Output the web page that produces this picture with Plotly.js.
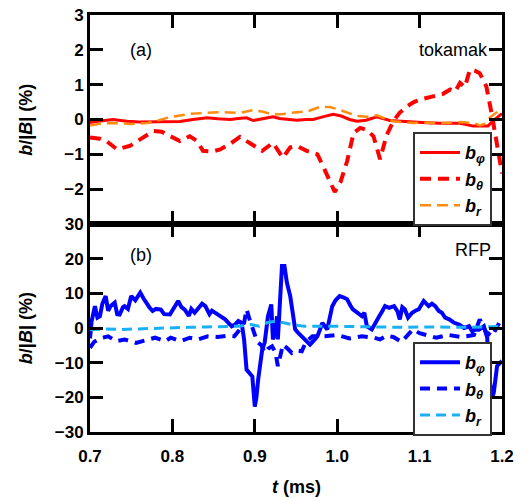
<!DOCTYPE html>
<html>
<head>
<meta charset="utf-8">
<script src="https://cdn.plot.ly/plotly-3.0.1.min.js"></script>
<style>html,body{margin:0;padding:0;background:#fff}#chart{width:529px;height:498px}</style>
</head>
<body>
<div id="chart"></div>
<script>
// ---- Data (t in ms, values in %) ----
// Panel (a): tokamak
var tokPhiT = [0.700,0.710,0.728,0.745,0.760,0.773,0.793,0.809,0.825,0.842,0.855,0.870,0.880,0.890,0.898,0.910,0.922,0.930,0.940,0.951,0.962,0.971,0.980,0.989,0.995,1.005,1.015,1.024,1.035,1.048,1.056,1.064,1.078,1.092,1.108,1.125,1.140,1.149,1.158,1.165,1.175,1.183,1.189,1.195,1.200];
var tokPhiV = [-0.09,-0.05,0.0,-0.05,-0.07,-0.07,-0.08,-0.06,0.0,0.05,0.02,0.0,0.03,0.05,-0.03,0.03,0.08,0.03,0.0,-0.02,0.0,0.0,0.06,0.12,0.15,0.10,0.0,-0.05,-0.02,0.08,0.02,-0.03,-0.05,-0.06,-0.09,-0.11,-0.10,-0.11,-0.15,-0.19,-0.19,-0.19,-0.04,0.07,0.17];

var tokThT = [0.700,0.712,0.720,0.733,0.749,0.763,0.777,0.787,0.797,0.809,0.821,0.830,0.837,0.848,0.858,0.870,0.882,0.894,0.909,0.922,0.934,0.943,0.951,0.963,0.976,0.984,0.991,0.997,1.004,1.012,1.020,1.028,1.036,1.044,1.052,1.060,1.068,1.076,1.085,1.093,1.100,1.116,1.128,1.137,1.143,1.149,1.155,1.161,1.167,1.173,1.181,1.188,1.194,1.200];
var tokThV = [-0.52,-0.55,-0.62,-0.86,-0.75,-0.55,-0.33,-0.35,-0.48,-0.62,-0.48,-0.62,-0.90,-0.92,-0.86,-0.70,-0.50,-0.67,-0.90,-0.67,-1.10,-0.80,-0.76,-0.90,-1.00,-1.40,-1.80,-2.08,-1.80,-1.20,-0.38,-0.24,-0.30,-0.48,-1.14,-0.45,-0.05,0.20,0.38,0.50,0.57,0.67,0.73,0.86,0.80,1.05,0.93,1.43,1.40,1.33,0.95,0.10,-0.80,-1.55];

var tokRT = [0.700,0.712,0.730,0.750,0.770,0.781,0.797,0.810,0.821,0.840,0.858,0.870,0.882,0.898,0.910,0.922,0.935,0.951,0.965,0.979,0.991,1.000,1.012,1.024,1.036,1.048,1.058,1.068,1.080,1.092,1.110,1.133,1.150,1.165,1.173,1.180,1.185,1.192,1.200];
var tokRV = [-0.17,-0.12,-0.10,-0.13,-0.10,-0.04,0.07,0.12,0.16,0.19,0.21,0.20,0.19,0.27,0.22,0.14,0.16,0.21,0.24,0.36,0.36,0.30,0.19,0.10,0.08,0.12,0.03,-0.05,-0.08,-0.10,-0.09,-0.10,-0.07,-0.10,-0.17,-0.12,0.05,0.18,0.29];

// Panel (b): RFP
var rfpPhiT = [0.700,0.702,0.706,0.709,0.712,0.715,0.719,0.722,0.725,0.730,0.733,0.736,0.740,0.742,0.746,0.750,0.755,0.761,0.765,0.768,0.772,0.776,0.780,0.786,0.790,0.797,0.800,0.804,0.807,0.811,0.815,0.820,0.823,0.827,0.832,0.836,0.840,0.845,0.848,0.852,0.858,0.864,0.868,0.872,0.876,0.880,0.884,0.887,0.890,0.894,0.897,0.900,0.902,0.904,0.909,0.912,0.916,0.920,0.922,0.925,0.927,0.928,0.931,0.933,0.936,0.939,0.943,0.946,0.949,0.953,0.957,0.962,0.967,0.972,0.976,0.979,0.982,0.985,0.988,0.991,0.994,0.998,1.003,1.008,1.012,1.016,1.019,1.024,1.030,1.033,1.036,1.042,1.046,1.051,1.055,1.058,1.063,1.069,1.073,1.076,1.079,1.082,1.086,1.091,1.095,1.099,1.105,1.111,1.115,1.119,1.123,1.127,1.131,1.136,1.142,1.148,1.154,1.160,1.164,1.167,1.172,1.178,1.182,1.185,1.188,1.190,1.194,1.200];
var rfpPhiV = [-3,2,6.3,3,3.4,7,9.2,5,6.3,7.3,4,3.9,6,6.3,5.5,9.2,8,10.2,8.5,7.3,6,4.9,5.5,5.3,4,3.9,5,6.5,7.8,6,5.3,3.5,5.5,4.4,6,7,6.3,4,5,4.4,3.5,2.5,1.5,0.5,1,2,1.5,-3.3,-12,-13,-14,-22.7,-20,-15,-6.2,-4.2,3.4,6.8,-3.3,-1,3.4,-3.3,8,17.9,17.9,13,9.2,4,-0.4,-1.5,-2.4,-3.5,-4.8,-3.5,-2.4,-0.5,1.5,0.5,-0.4,3,6.3,8,9.2,8.8,8.3,6.5,5.4,4.5,3.4,4.4,0.5,-0.4,1.5,3.4,5,6.3,5.8,6.3,4.9,2.5,6,5.4,3,4.4,5,5.4,7.8,6.3,7,6.3,5,4.4,3,2.5,1.5,1,0,0.5,-1,-0.4,-0.5,0.5,-2.8,-15,-20,-18.7,-11,-9.5];

var rfpThT = [0.700,0.705,0.712,0.722,0.732,0.742,0.756,0.765,0.779,0.791,0.798,0.810,0.821,0.831,0.843,0.855,0.867,0.875,0.882,0.887,0.890,0.893,0.898,0.903,0.908,0.912,0.916,0.921,0.925,0.928,0.931,0.934,0.940,0.945,0.951,0.957,0.962,0.970,0.985,1.000,1.015,1.030,1.045,1.052,1.060,1.068,1.078,1.092,1.100,1.110,1.120,1.135,1.150,1.157,1.166,1.173,1.180,1.188,1.195,1.200];
var rfpThV = [-5.7,-4,-3,-2.4,-3.8,-3.3,-4.3,-3.8,-2.8,-3.8,-2.8,-3.8,-2.8,-3.3,-2.4,-2.6,-2.2,-2.4,-0.4,1.5,5.4,3,-1,-4,-5,-7.2,-6,-5.3,-7,-11,-8,-4.8,-6,-7.2,-6.5,-6.7,-4,-2.4,-2.4,-2,-3,-2.4,-2.8,-3.3,-2.2,-2.6,-4,-0.4,-1.5,-2.2,-2.8,-2,-2.6,-2.4,-2,2.5,-1,-2.4,1,3];

var rfpRT = [0.700,0.720,0.740,0.760,0.780,0.800,0.820,0.840,0.860,0.880,0.895,0.905,0.915,0.925,0.935,0.945,0.960,0.980,1.000,1.020,1.040,1.060,1.080,1.100,1.120,1.140,1.160,1.180,1.200];
var rfpRV = [-0.5,-0.3,-0.4,-0.2,0,0,0.2,0.3,0.5,0.5,1,0.5,1.5,2,1.5,1,0.5,0.6,0.5,0.4,0.3,0.4,0.2,0.3,0.2,0.3,0.2,0.3,0.5];

var xTicks = [0.7,0.8,0.9,1.0,1.1,1.2];
var xTickText = ['0.7','0.8','0.9','1.0','1.1','1.2'];
var yTicksTop = [-2,-1,0,1,2,3];
var yTicksBot = [-30,-20,-10,0,10,20,30];

var nPhi = '<b><i>b</i><sub><i>φ</i></sub></b>';
var nTh  = '<b><i>b</i><sub><i>θ</i></sub></b>';
var nR   = '<b><i>b</i><sub><i>r</i></sub></b>';
var yTitle = '<b><i>b</i>/|<i>B</i>| (%)</b>';
var xTitle = '<b><i>t</i> (ms)</b>';

var traces = [
  {x: tokPhiT, y: tokPhiV, xaxis:'x', yaxis:'y', name:nPhi, legend:'legend', mode:'lines', line:{color:'#ff0000', width:3}},
  {x: tokThT,  y: tokThV,  xaxis:'x', yaxis:'y', name:nTh, legend:'legend', mode:'lines', line:{color:'#ff0000', width:4, dash:'11px,7px'}},
  {x: tokRT,   y: tokRV,   xaxis:'x', yaxis:'y', name:nR, legend:'legend', mode:'lines', line:{color:'#ff8c10', width:2.5, dash:'11px,6px'}},
  {x: rfpPhiT, y: rfpPhiV, xaxis:'x2', yaxis:'y2', name:nPhi, legend:'legend2', mode:'lines', line:{color:'#0000ff', width:4}},
  {x: rfpThT,  y: rfpThV,  xaxis:'x2', yaxis:'y2', name:nTh, legend:'legend2', mode:'lines', line:{color:'#0000ff', width:4, dash:'10px,7px'}},
  {x: rfpRT,   y: rfpRV,   xaxis:'x2', yaxis:'y2', name:nR, legend:'legend2', mode:'lines', line:{color:'#1ab0f5', width:3, dash:'10px,6px'}}
];

var split = 208/417;
var tickFont = {family:'Liberation Sans, Arial, sans-serif', size:17, color:'#000', weight:'bold'};
function xax(anchor, labels){
  var a = {anchor:anchor, range:[0.7,1.2], tickvals:xTicks, ticktext:xTickText, ticks:'inside', ticklen:13, tickwidth:3, tickcolor:'#000',
    showline:true, linewidth:3, linecolor:'#000', mirror:'ticks', showgrid:false, zeroline:false, showticklabels:labels, tickfont:tickFont, domain:[0,1]};
  if (labels) { a.ticklabelstandoff = 7; }
  return a;
}
function yax(anchor, dom, rng, tv){
  return {anchor:anchor, domain:dom, range:rng, tickvals:tv, ticks:'inside', ticklen:13, tickwidth:3, tickcolor:'#000',
    showline:true, linewidth:3, linecolor:'#000', mirror:'ticks', showgrid:false, zeroline:false, tickfont:tickFont};
}
function leg(y){
  return {x:0.784, y:y, xanchor:'left', yanchor:'top', bgcolor:'#fff', bordercolor:'#333', borderwidth:2,
    font:{family:'Liberation Sans, Arial, sans-serif', size:18, color:'#000'}, itemwidth:40, tracegroupgap:0};
}
var annFont = {family:'Liberation Sans, Arial, sans-serif', size:18, color:'#000'};
var titleFont = {family:'Liberation Sans, Arial, sans-serif', size:18, color:'#000'};
var layout = {
  width:529, height:498, margin:{l:90, r:27, t:15, b:66}, paper_bgcolor:'#fff', plot_bgcolor:'#fff', showlegend:true,
  xaxis: xax('y', false),
  yaxis: yax('x', [split,1], [-3,3], yTicksTop),
  xaxis2: xax('y2', true),
  yaxis2: yax('x2', [0,split], [-30,30], yTicksBot),
  legend: leg(0.719),
  legend2: leg(0.216),
  annotations: [
    {text:'(a)', xref:'paper', yref:'paper', x:0.092, y:0.916, xanchor:'left', yanchor:'middle', showarrow:false, font:annFont},
    {text:'tokamak', xref:'paper', yref:'paper', x:0.971, y:0.916, xanchor:'right', yanchor:'middle', showarrow:false, font:annFont},
    {text:'(b)', xref:'paper', yref:'paper', x:0.092, y:0.4245, xanchor:'left', yanchor:'middle', showarrow:false, font:annFont},
    {text:'RFP', xref:'paper', yref:'paper', x:0.978, y:0.436, xanchor:'right', yanchor:'middle', showarrow:false, font:annFont},
    {text:yTitle, xref:'paper', yref:'paper', x:-0.155, y:0.749, xanchor:'center', yanchor:'middle', textangle:-90, showarrow:false, font:titleFont},
    {text:yTitle, xref:'paper', yref:'paper', x:-0.155, y:0.2494, xanchor:'center', yanchor:'middle', textangle:-90, showarrow:false, font:titleFont},
    {text:xTitle, xref:'paper', yref:'paper', x:0.5, y:-0.132, xanchor:'center', yanchor:'middle', showarrow:false, font:titleFont}
  ]
};
Plotly.newPlot('chart', traces, layout, {staticPlot:true, displayModeBar:false});
</script>
</body>
</html>
